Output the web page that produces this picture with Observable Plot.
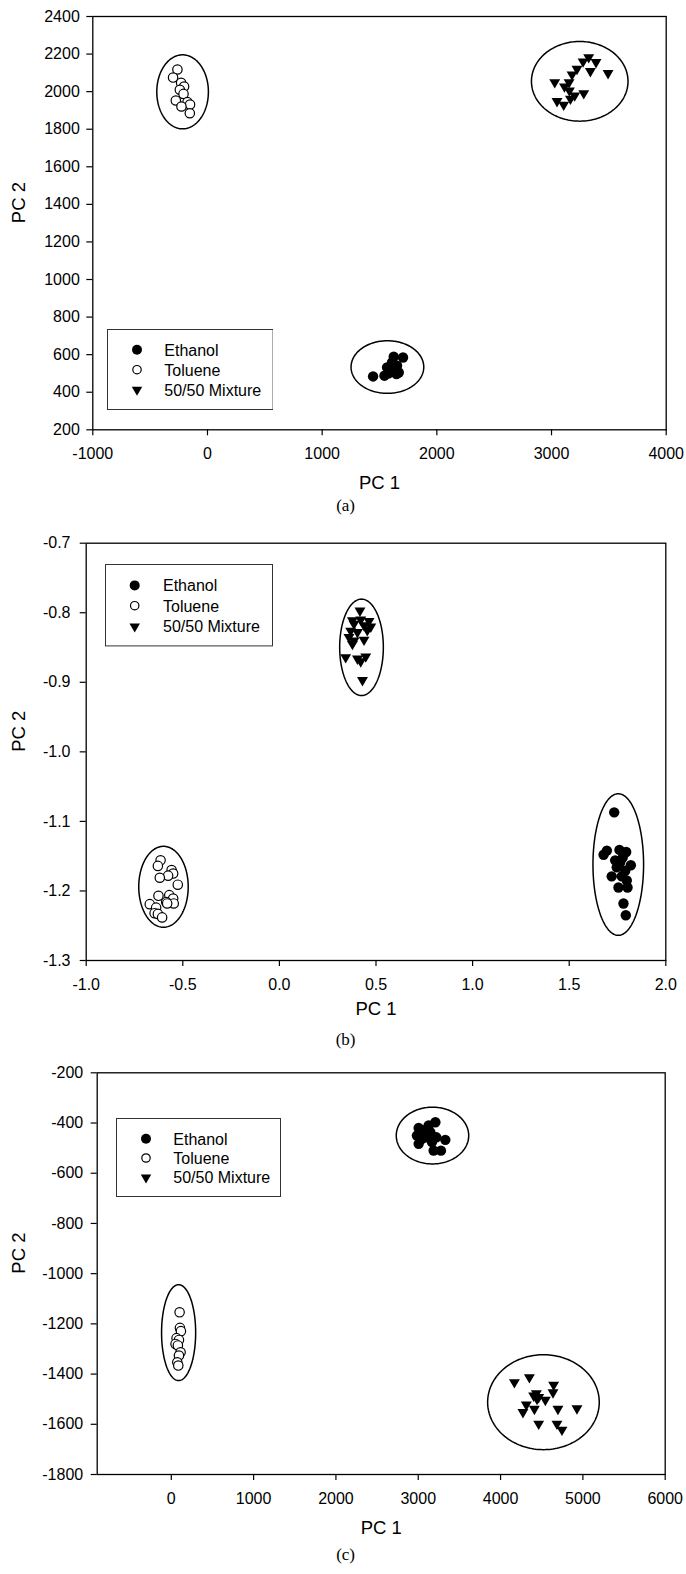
<!DOCTYPE html>
<html><head><meta charset="utf-8">
<script src="https://cdn.jsdelivr.net/npm/d3@7"></script>
<script src="https://cdn.jsdelivr.net/npm/@observablehq/plot@0.6"></script>
<style>
body{margin:0;background:#fff;}
#root{position:relative;width:686px;height:1574px;font-family:"Liberation Sans",Arial,sans-serif;overflow:hidden;}
.panel{position:absolute;left:0;}
.cap{position:absolute;font-family:"Liberation Serif","Times New Roman",serif;font-size:17px;transform:translate(-50%,-50%);white-space:nowrap;}
</style></head><body><div id="root"></div>
<script>
// ---------- data ----------
const legendLabels = ["Ethanol", "Toluene", "50/50 Mixture"];
const axisTitleX = "PC 1", axisTitleY = "PC 2";
const captions = ["(a)", "(b)", "(c)"];

// panel (a)
const xTicksA = [-1000, 0, 1000, 2000, 3000, 4000];
const yTicksA = [200, 400, 600, 800, 1000, 1200, 1400, 1600, 1800, 2000, 2200, 2400];
const ethA = [[1444,484],[1543,488],[1566,532],[1624,589],[1705,585],[1653,541],[1648,497],[1609,558],[1595,514],[1668,505],[1630,520],[1580,500]];
const tolA = [[-262,2118],[-300,2075],[-230,2047],[-204,2027],[-241,2010],[-209,1988],[-276,1953],[-174,1944],[-152,1931],[-227,1921],[-154,1885]];
const mixA = [[3324,2183],[3388,2157],[3275,2160],[3222,2121],[3339,2109],[3493,2098],[3179,2091],[3028,2050],[3153,2050],[3113,2027],[3156,2006],[3281,1991],[3202,1979],[3048,1949],[3106,1930],[3165,1962]];
// ellipse [cx, cy, rx, ry]
const ellA = [[1569,534,317,140],[-217,1999,225,197],[3246,2055,421,212]];

// panel (b)
const xTicksB = [-1.0, -0.5, 0.0, 0.5, 1.0, 1.5, 2.0];
const yTicksB = [-1.3, -1.2, -1.1, -1.0, -0.9, -0.8, -0.7];
const ethB = [[1.733,-1.087],[1.695,-1.142],[1.678,-1.148],[1.760,-1.141],[1.795,-1.144],[1.777,-1.152],[1.819,-1.163],[1.746,-1.166],[1.790,-1.171],[1.720,-1.179],[1.772,-1.179],[1.798,-1.185],[1.755,-1.195],[1.802,-1.195],[1.781,-1.218],[1.793,-1.235],[1.738,-1.156],[1.764,-1.159]];
const tolB = [[-0.615,-1.156],[-0.629,-1.164],[-0.558,-1.170],[-0.550,-1.175],[-0.576,-1.178],[-0.619,-1.181],[-0.526,-1.191],[-0.626,-1.207],[-0.570,-1.206],[-0.550,-1.211],[-0.586,-1.216],[-0.547,-1.218],[-0.671,-1.219],[-0.638,-1.224],[-0.646,-1.232],[-0.629,-1.233],[-0.607,-1.238],[-0.581,-1.218]];
const mixB = [[0.417,-0.797],[0.378,-0.811],[0.421,-0.810],[0.464,-0.812],[0.386,-0.816],[0.438,-0.818],[0.473,-0.820],[0.369,-0.826],[0.404,-0.828],[0.455,-0.825],[0.360,-0.835],[0.386,-0.840],[0.438,-0.839],[0.378,-0.845],[0.343,-0.864],[0.404,-0.866],[0.447,-0.863],[0.421,-0.870],[0.430,-0.897]];
const ellB = [[1.754,-1.162,0.131,0.1018],[-0.600,-1.194,0.128,0.0582],[0.425,-0.8497,0.113,0.0693]];

// panel (c)
const xTicksC = [0, 1000, 2000, 3000, 4000, 5000, 6000];
const yTicksC = [-1800, -1600, -1400, -1200, -1000, -800, -600, -400, -200];
const ethC = [[3208,-397],[3126,-410],[3005,-420],[3066,-430],[3147,-437],[2984,-450],[3106,-457],[3220,-457],[3329,-467],[3005,-483],[3167,-476],[3187,-510],[3276,-510],[3106,-443],[3045,-463]];
const tolC = [[101,-1154],[105,-1216],[117,-1229],[64,-1257],[93,-1264],[52,-1280],[80,-1286],[113,-1313],[93,-1326],[73,-1353],[85,-1366]];
const mixC = [[4168,-1433],[4350,-1413],[4645,-1443],[4435,-1477],[4402,-1486],[4463,-1492],[4637,-1473],[4544,-1503],[4313,-1522],[4411,-1539],[4272,-1552],[4697,-1539],[4928,-1537],[4463,-1598],[4685,-1598],[4746,-1622],[4443,-1499]];
const ellC = [[3173,-450,440,113],[89,-1235,207,191],[4521,-1512,678,189]];

// ---------- drawing ----------
const triDown = {
  draw(ctx, size) {
    const r = Math.sqrt(size / Math.PI);
    const w = 1.05 * r, h = 1.8 * r;
    ctx.moveTo(-w, -h / 3);
    ctx.lineTo(w, -h / 3);
    ctx.lineTo(0, 2 * h / 3);
    ctx.closePath();
  }
};
const fmtInt = d => String(d);
const fmtDec = d => d.toFixed(1);
const root = document.getElementById("root");

function makePanel(cfg) {
  const ellPts = cfg.ell.flatMap(([cx, cy, rx, ry], g) => d3.range(0, 181).map(k => {
    const t = (k / 180) * 2 * Math.PI;
    return {x: cx + rx * Math.cos(t), y: cy + ry * Math.sin(t), g};
  }));
  const px = d => d[0], py = d => d[1];
  const plot = Plot.plot({
    width: 686, height: cfg.height,
    marginLeft: cfg.ml, marginRight: cfg.mr, marginTop: cfg.mt, marginBottom: cfg.mb,
    x: {domain: cfg.xDomain},
    y: {domain: cfg.yDomain},
    style: {fontFamily: "'Liberation Sans', Arial, sans-serif", fontSize: "16px", color: "black", background: "white", overflow: "visible"},
    marks: [
      Plot.line(ellPts, {x: "x", y: "y", z: "g", stroke: "black", strokeWidth: 1.5}),
      Plot.dot(cfg.eth, {x: px, y: py, r: 5.2, fill: "black", stroke: "none"}),
      Plot.dot(cfg.tol, {x: px, y: py, r: 4.7, fill: "white", stroke: "black", strokeWidth: 1.2}),
      Plot.dot(cfg.mix, {x: px, y: py, r: 5.2, symbol: triDown, fill: "black", stroke: "none"}),
      Plot.frame({stroke: "black", strokeWidth: 1.3}),
      Plot.axisX({ticks: cfg.xTicks, tickFormat: cfg.fmt, tickSize: 6, tickPadding: 12, label: null, fontSize: 16, strokeWidth: 1.2}),
      Plot.axisY({ticks: cfg.yTicks, tickFormat: cfg.fmt, tickSize: 6, tickPadding: cfg.yPad, label: null, fontSize: 16, strokeWidth: 1.2}),
      Plot.text([axisTitleX], {text: d => d, frameAnchor: "bottom", dy: cfg.xLabelDy, fontSize: 18.5}),
      Plot.text([axisTitleY], {text: d => d, frameAnchor: "left", dx: 11.7 - cfg.ml, rotate: -90, lineAnchor: "top", fontSize: 18.5})
    ]
  });
  plot.classList.add("panel");
  plot.style.top = cfg.top + "px";
  root.appendChild(plot);
}

function makeLegend(box) {
  const svg = d3.create("svg")
    .attr("width", box.w).attr("height", box.h)
    .style("position", "absolute").style("left", box.x + "px").style("top", box.y + "px");
  svg.append("rect").attr("x", 0.5).attr("y", 0.5).attr("width", box.w - 1).attr("height", box.h - 1)
    .attr("fill", "white").attr("stroke", "#333").attr("stroke-width", 1);
  const rows = box.rows;
  svg.append("circle").attr("cx", box.sx).attr("cy", rows[0]).attr("r", 5).attr("fill", "black");
  svg.append("circle").attr("cx", box.sx).attr("cy", rows[1]).attr("r", 4.2).attr("fill", "white").attr("stroke", "black").attr("stroke-width", 1.2);
  const p = d3.path(); triDown.draw(p, 25 * Math.PI);
  svg.append("path").attr("d", p.toString()).attr("transform", `translate(${box.sx},${rows[2]})`).attr("fill", "black");
  legendLabels.forEach((t, i) => {
    svg.append("text").attr("x", box.tx).attr("y", rows[i] + 5.8)
      .attr("font-family", "'Liberation Sans', Arial, sans-serif").attr("font-size", 16).attr("fill", "black").text(t);
  });
  root.appendChild(svg.node());
}

function caption(text, x, y) {
  const d = document.createElement("div");
  d.className = "cap"; d.textContent = text;
  d.style.left = x + "px"; d.style.top = y + "px";
  root.appendChild(d);
}

makePanel({top: 0, height: 495, ml: 92.3, mr: 20.3, mt: 16, mb: 65.7, xDomain: [-1000, 4000], yDomain: [200, 2400],
  xTicks: xTicksA, yTicks: yTicksA, fmt: fmtInt, yPad: 7, xLabelDy: 59, eth: ethA, tol: tolA, mix: mixA, ell: ellA});
makePanel({top: 520, height: 495, ml: 85.7, mr: 20.7, mt: 22.7, mb: 55, xDomain: [-1, 2], yDomain: [-1.3, -0.7],
  xTicks: xTicksB, yTicks: yTicksB, fmt: fmtDec, yPad: 9.7, xLabelDy: 54, eth: ethB, tol: tolB, mix: mixB, ell: ellB});
makePanel({top: 1050, height: 490, ml: 96.7, mr: 21.3, mt: 22.3, mb: 66, xDomain: [-900, 6000], yDomain: [-1800, -200],
  xTicks: xTicksC, yTicks: yTicksC, fmt: fmtInt, yPad: 8, xLabelDy: 59, eth: ethC, tol: tolC, mix: mixC, ell: ellC});

makeLegend({x: 106.7, y: 329.3, w: 166.6, h: 81, sx: 30, tx: 57.3, rows: [20.7, 40.7, 60.7]});
makeLegend({x: 105.3, y: 564.3, w: 168, h: 82.4, sx: 29.7, tx: 58, rows: [21.4, 41.7, 62.4]});
makeLegend({x: 116, y: 1118.3, w: 165, h: 79, sx: 30, tx: 57.3, rows: [20.7, 40, 59.4]});

caption(captions[0], 345.6, 506);
caption(captions[1], 345.6, 1040);
caption(captions[2], 345.6, 1555);
</script>
</body></html>
